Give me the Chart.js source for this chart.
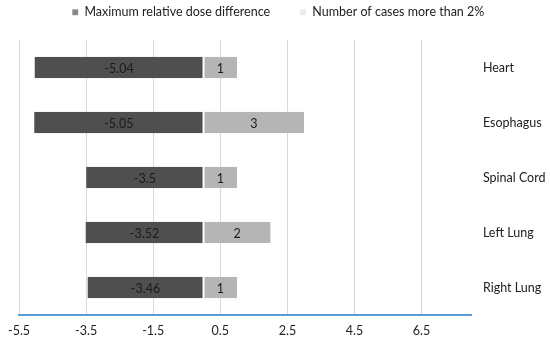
<!DOCTYPE html>
<html>
<head>
<meta charset="utf-8">
<script src="https://cdn.jsdelivr.net/npm/chart.js@4/dist/chart.umd.min.js"></script>
<style>
html,body{margin:0;padding:0;background:#fff;}
#wrap{width:550px;height:339px;position:relative;}
</style>
</head>
<body>
<div id="wrap"><canvas id="c"></canvas></div>
<script>
const categories = ["Heart", "Esophagus", "Spinal Cord", "Left Lung", "Right Lung"];
const maxDoseDiff = [-5.04, -5.05, -3.5, -3.52, -3.46];
const casesOver2 = [1, 3, 1, 2, 1];
const seriesNames = ["Maximum relative dose difference", "Number of cases more than 2%"];
const xTicks = [-5.5, -3.5, -1.5, 0.5, 2.5, 4.5, 6.5];

const FONT = "Lato, 'Open Sans', sans-serif";

function barGradient(stops, solid) {
  return function (ctx) {
    if (ctx.type !== 'data') return solid;
    const chart = ctx.chart;
    const el = chart.getDatasetMeta(ctx.datasetIndex).data[ctx.dataIndex];
    if (!el || !isFinite(el.y) || !el.height) return solid;
    const top = el.y - el.height / 2, bot = el.y + el.height / 2;
    const g = chart.ctx.createLinearGradient(0, top, 0, bot);
    stops.forEach(s => g.addColorStop(s[0], s[1]));
    return g;
  };
}

const legendHeight = {
  id: 'legendHeight',
  beforeInit(chart) {
    const lg = chart.legend;
    if (!lg) return;
    const orig = lg.fit;
    lg.fit = function () { orig.call(this); this.height = 64; };
  }
};

const valueLabels = {
  id: 'valueLabels',
  afterDatasetsDraw(chart) {
    const c = chart.ctx;
    c.save();
    c.font = "12.5px " + FONT;
    c.fillStyle = '#1a1a1a';
    c.textAlign = 'center';
    c.textBaseline = 'middle';
    chart.data.datasets.forEach((ds, i) => {
      const meta = chart.getDatasetMeta(i);
      meta.data.forEach((el, j) => {
        const cx = (el.x + el.base) / 2;
        c.fillText(String(ds.data[j]), cx, el.y + 1);
      });
    });
    c.restore();
  }
};

new Chart(document.getElementById('c'), {
  type: 'bar',
  data: {
    labels: categories,
    datasets: [
      {
        label: seriesNames[0],
        data: maxDoseDiff,
        backgroundColor: barGradient([[0, '#858585'], [0.12, '#6e6e6e'], [0.6, '#555555'], [0.9, '#444444'], [1, '#3a3a3a']], '#4f4f4f'),
        borderColor: '#ffffff',
        borderWidth: {left: 0, right: 1, top: 0, bottom: 0},
        borderSkipped: false,
        categoryPercentage: 0.5,
        barPercentage: 0.78
      },
      {
        label: seriesNames[1],
        data: casesOver2,
        backgroundColor: barGradient([[0, '#ececec'], [0.15, '#d6d6d6'], [0.6, '#bababa'], [0.9, '#a2a2a2'], [1, '#959595']], '#b5b5b5'),
        borderColor: '#ffffff',
        borderWidth: {left: 1, right: 0, top: 0, bottom: 0},
        borderSkipped: false,
        categoryPercentage: 0.5,
        barPercentage: 0.78
      }
    ]
  },
  options: {
    indexAxis: 'y',
    responsive: true,
    maintainAspectRatio: false,
    animation: false,
    layout: {padding: {top: -24, left: 0, right: -6.5, bottom: -7}},
    plugins: {
      legend: {
        position: 'top',
        labels: {
          font: {family: FONT, size: 12.5},
          color: '#222',
          boxWidth: 6,
          boxHeight: 6,
          padding: 30
        }
      },
      tooltip: {enabled: false}
    },
    scales: {
      x: {
        type: 'linear',
        stacked: true,
        min: -5.5,
        max: 8,
        afterBuildTicks: (axis) => { axis.ticks = xTicks.map(v => ({value: v})); },
        ticks: {
          font: {family: FONT, size: 12.5},
          color: '#222',
          padding: 8,
          maxRotation: 0,
          callback: (v) => String(v)
        },
        grid: {color: '#d9d9d9', lineWidth: 1, drawTicks: false},
        border: {display: true, color: '#5b9bd5', width: 2}
      },
      y: {
        stacked: true,
        position: 'right',
        afterFit: (scale) => { scale.paddingTop = 0; scale.paddingBottom = 0; },
        ticks: {
          font: {family: FONT, size: 12.5},
          color: '#222',
          padding: 11
        },
        grid: {display: false, drawTicks: false},
        border: {display: false}
      }
    }
  },
  plugins: [legendHeight, valueLabels]
});
</script>
</body>
</html>
